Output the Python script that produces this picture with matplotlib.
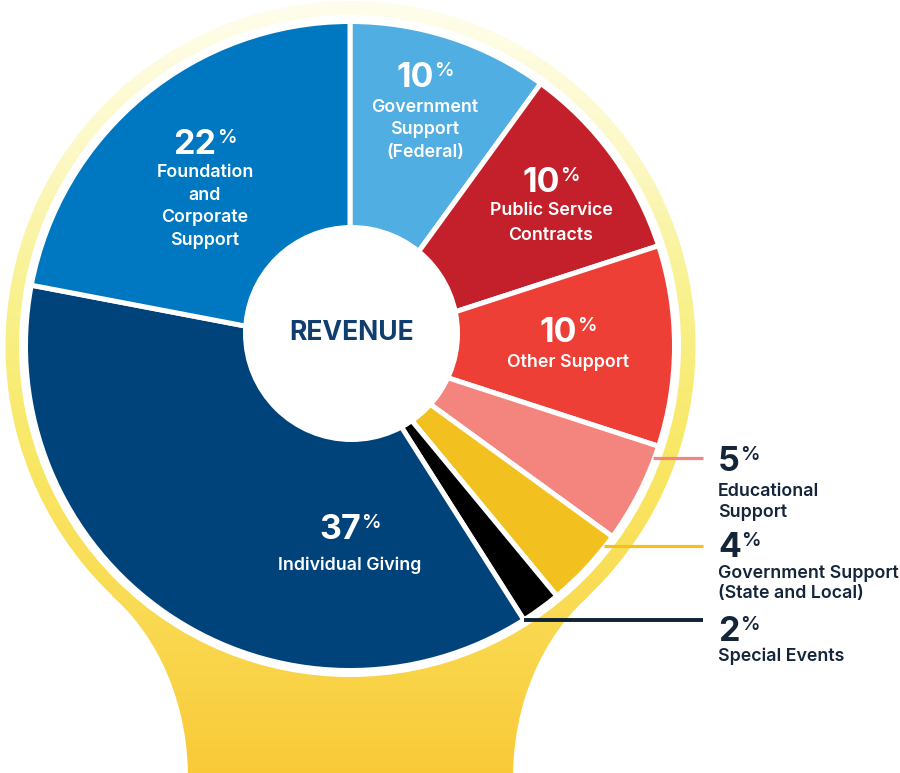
import numpy as np
import matplotlib
matplotlib.use("Agg")
import matplotlib.pyplot as plt
from matplotlib.patches import Circle, PathPatch
from matplotlib.path import Path

# ---------------- data ----------------
categories = ["Government Support (Federal)", "Public Service Contracts", "Other Support",
              "Educational Support", "Government Support (State and Local)", "Special Events",
              "Individual Giving", "Foundation and Corporate Support"]
values = [10, 10, 10, 5, 4, 2, 37, 22]
colors = ["#50AEE2", "#C4202B", "#EE3F37", "#F4847E", "#F2C11F", "#000000", "#00437B", "#0077C1"]
label_lines = [["Government", "Support", "(Federal)"],
               ["Public Service", "Contracts"],
               ["Other Support"],
               ["Educational", "Support"],
               ["Government Support", "(State and Local)"],
               ["Special Events"],
               ["Individual Giving"],
               ["Foundation", "and", "Corporate", "Support"]]
center_title = "REVENUE"

# ---------------- layout (image pixel coordinates) ----------------
W, H = 900, 773
CX, CY, R = 350.0, 346.0, 324.5
FONT = ["Inter", "Lato", "DejaVu Sans"]
# inside labels: index -> (x centre, number baseline, first line baseline, spacing)
inside = {0: (425, 87, 112, 22.5), 1: (551, 192, 215, 25), 2: (568, 342, 367, 22),
          6: (350, 539, 570, 22), 7: (205, 154, 177.3, 22.6)}
# outside labels: index -> (number baseline, first line baseline, spacing, leader y)
outside = {3: (471, 496, 21, 458), 4: (557, 578, 20, 546), 5: (641, 661, 20, None)}
OUT_X = 718
LEAD_END = 703
DARK = "#14253A"

fig = plt.figure(figsize=(W / 100, H / 100), dpi=100)
ax = fig.add_axes([0, 0, 1, 1])

# ---------------- light-bulb background ----------------
stops_y = [0, 150, 300, 450, 600, 773]
stops_c = [(1.0, 0.995, 0.93), (0.99, 0.975, 0.78), (0.975, 0.945, 0.55),
           (0.975, 0.91, 0.40), (0.98, 0.86, 0.33), (0.98, 0.79, 0.22)]
yy = np.arange(H)
grad = np.zeros((H, 2, 3))
for k in range(3):
    grad[:, :, k] = np.interp(yy, stops_y, [c[k] for c in stops_c])[:, None]

bulb = Circle((350.5, 346), 345, transform=ax.transData)
neck_verts = [(112, 596), (146, 625), (186, 685), (188, 773), (188, 800), (513, 800),
              (513, 773), (515, 685), (555, 625), (589, 596), (112, 596)]
neck_codes = [Path.MOVETO, Path.CURVE4, Path.CURVE4, Path.CURVE4, Path.LINETO, Path.LINETO,
              Path.LINETO, Path.CURVE4, Path.CURVE4, Path.CURVE4, Path.CLOSEPOLY]
neck = PathPatch(Path(neck_verts, neck_codes), transform=ax.transData)
for clip in (bulb, neck):
    im = ax.imshow(grad, extent=(0, W, H, 0), aspect="auto", interpolation="bilinear", zorder=0)
    im.set_clip_path(clip)

ax.add_patch(Circle((CX, CY), 331, facecolor="white", edgecolor="none", zorder=1))

# ---------------- pie ----------------
wedges, _ = ax.pie(values, colors=colors, startangle=-90, counterclock=True,
                   center=(CX, CY), radius=R,
                   wedgeprops=dict(edgecolor="white", linewidth=3.6))
for w in wedges:
    w.set_zorder(2)

ax.add_patch(Circle((351.5, 333.5), 108.5, facecolor="white", edgecolor="none", zorder=3))
ax.text(352, 333, center_title, ha="center", va="center", fontsize=19, fontweight="bold",
        color="#0F3E6F", family=FONT, zorder=4)

ax.set_xlim(0, W)
ax.set_ylim(H, 0)
ax.set_aspect("auto")
ax.axis("off")

renderer = fig.canvas.get_renderer()
NUM_PT, PCT_PT, LAB_PT = 24.5, 14, 12.8
PX = 100 / 72.0


def number_with_pct(val, x, baseline, color, align):
    t1 = ax.text(0, baseline, str(val), ha="left", va="baseline", fontsize=NUM_PT,
                 fontweight="bold", color=color, family=FONT, zorder=5)
    t2 = ax.text(0, baseline - 0.727 * NUM_PT * PX + 0.727 * PCT_PT * PX, "%", ha="left",
                 va="baseline", fontsize=PCT_PT, fontweight="semibold", color=color,
                 family=FONT, zorder=5)
    w1 = t1.get_window_extent(renderer).width
    w2 = t2.get_window_extent(renderer).width
    gap = 0.5
    x0 = x - (w1 + gap + w2) / 2 if align == "center" else x
    t1.set_x(x0)
    t2.set_x(x0 + w1 + gap)


for i, (xc, nb, lb, sp) in inside.items():
    number_with_pct(values[i], xc, nb, "white", "center")
    for j, line in enumerate(label_lines[i]):
        ax.text(xc, lb + j * sp, line, ha="center", va="baseline", fontsize=LAB_PT,
                fontweight="semibold", color="white", family=FONT, zorder=5)

for i, (nb, lb, sp, ly) in outside.items():
    number_with_pct(values[i], OUT_X, nb, DARK, "left")
    for j, line in enumerate(label_lines[i]):
        ax.text(OUT_X, lb + j * sp, line, ha="left", va="baseline", fontsize=LAB_PT,
                fontweight="semibold", color=DARK, family=FONT, zorder=5)
    # leader line from the outer edge of the wedge to the label
    if ly is None:
        ang = np.deg2rad(wedges[i].theta2)
        x_start, ly = CX + R * np.cos(ang), CY + R * np.sin(ang)
    else:
        x_start = CX + np.sqrt(R ** 2 - (ly - CY) ** 2) - 2
    lc = colors[i] if i != 5 else "#0E2233"
    ax.plot([x_start, LEAD_END], [ly, ly], color=lc, lw=2.3 if i != 5 else 2.8,
            solid_capstyle="butt", zorder=4)

fig.savefig("out.png", dpi=100)
